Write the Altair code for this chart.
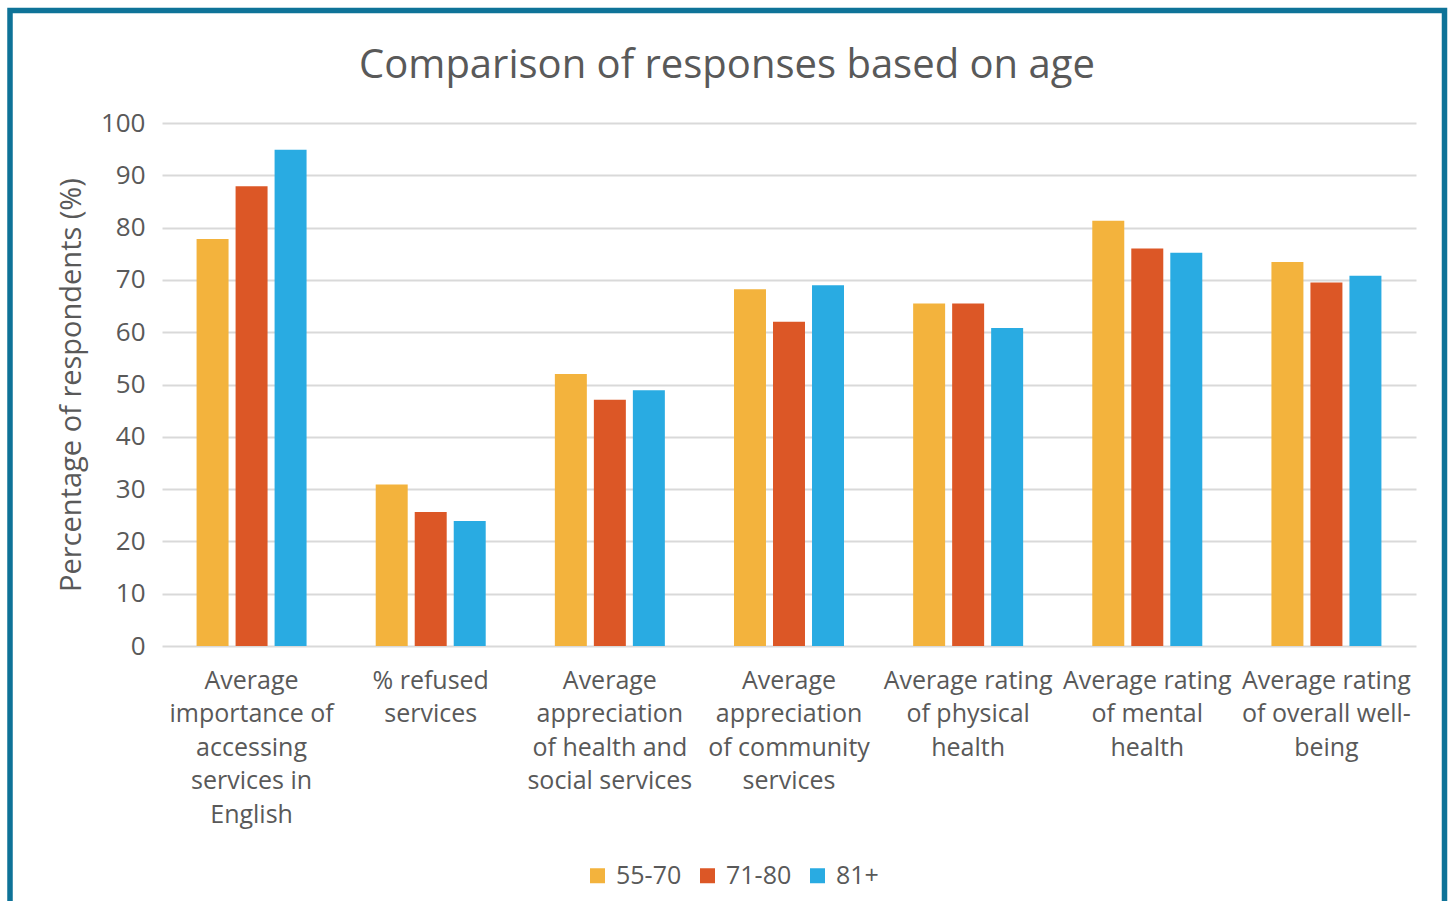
import json
import altair as alt
import pandas as pd

# Survey question groups (x-axis categories) and the wrapped lines used for their labels
categories = [
    "Average importance of accessing services in English",
    "% refused services",
    "Average appreciation of health and social services",
    "Average appreciation of community services",
    "Average rating of physical health",
    "Average rating of mental health",
    "Average rating of overall well-being",
]
label_lines = [
    ["Average", "importance of", "accessing", "services in", "English"],
    ["% refused", "services"],
    ["Average", "appreciation", "of health and", "social services"],
    ["Average", "appreciation", "of community", "services"],
    ["Average rating", "of physical", "health"],
    ["Average rating", "of mental", "health"],
    ["Average rating", "of overall well-", "being"],
]

# Age groups and their percentages, one list per group
age_groups = ["55-70", "71-80", "81+"]
values_55_70 = [77.8, 30.9, 52.0, 68.2, 65.5, 81.3, 73.4]
values_71_80 = [87.9, 25.6, 47.1, 62.0, 65.5, 76.0, 69.5]
values_81_plus = [94.9, 23.9, 48.9, 69.0, 60.8, 75.2, 70.8]
age_colors = ["#F3B33D", "#DC5726", "#29ABE2"]

y_ticks = list(range(0, 101, 10))

rows = []
for age, series in zip(age_groups, [values_55_70, values_71_80, values_81_plus]):
    for cat, val in zip(categories, series):
        rows.append({"category": cat, "age": age, "value": val})
df = pd.DataFrame(rows)

# Multi-line x labels via a chained lookup expression
label_expr = ""
for cat, lines in zip(categories, label_lines):
    label_expr += f"datum.value == {json.dumps(cat)} ? {json.dumps(lines)} : "
label_expr += "datum.label"

TEXT = "#595959"
FONT = "Open Sans"

bars = alt.Chart(df).mark_bar().encode(
    x=alt.X(
        "category:N",
        sort=categories,
        scale=alt.Scale(paddingInner=0.386, paddingOuter=0.193),
        axis=alt.Axis(
            title=None,
            labelAngle=0,
            domain=False,
            ticks=False,
            labelExpr=label_expr,
            labelFontSize=25,
            labelLineHeight=33.5,
            labelColor=TEXT,
            labelFont=FONT,
            labelPadding=22,
            labelLimit=400,
        ),
    ),
    xOffset=alt.XOffset("age:N", sort=age_groups, scale=alt.Scale(paddingInner=0.18)),
    y=alt.Y(
        "value:Q",
        scale=alt.Scale(domain=[0, 100]),
        axis=alt.Axis(
            values=y_ticks,
            title="Percentage of respondents (%)",
            titleFontSize=29,
            titleFontWeight="normal",
            titleColor=TEXT,
            titleFont=FONT,
            titlePadding=14,
            domain=False,
            ticks=False,
            labelFontSize=26,
            labelColor=TEXT,
            labelFont=FONT,
            labelPadding=17,
            gridColor="#D9D9D9",
            gridWidth=1.8,
        ),
    ),
    color=alt.Color(
        "age:N",
        sort=age_groups,
        scale=alt.Scale(domain=age_groups, range=age_colors),
        legend=alt.Legend(
            title=None,
            orient="none",
            direction="horizontal",
            legendX=423,
            legendY=740,
            symbolType="square",
            symbolSize=225,
            symbolStrokeWidth=0,
            labelFontSize=25,
            labelColor=TEXT,
            labelFont=FONT,
            columnPadding=13,
            labelOffset=6,
        ),
    ),
)

# Teal frame around the whole figure
frame = alt.Chart(pd.DataFrame({"f": [0]})).mark_rect(
    fillOpacity=0, stroke="#0E7398", strokeWidth=5.5
).encode(
    x=alt.value(-152),
    x2=alt.value(1282.5),
    y=alt.value(-112.5),
    y2=alt.value(820),
)

chart = alt.layer(bars, frame).properties(
    width=1254,
    height=523,
    autosize=alt.AutoSizeParams(type="none"),
    padding={"left": 162, "top": 123, "right": 32, "bottom": 255},
    background="white",
    title=alt.TitleParams(
        "Comparison of responses based on age",
        fontSize=40,
        fontWeight="normal",
        color=TEXT,
        font=FONT,
        anchor="middle",
        frame="group",
        dx=-62,
        dy=106,
        offset=28,
    ),
).configure_view(strokeWidth=0)

chart.save("out.html", embed_options={"renderer": "svg", "actions": False})
